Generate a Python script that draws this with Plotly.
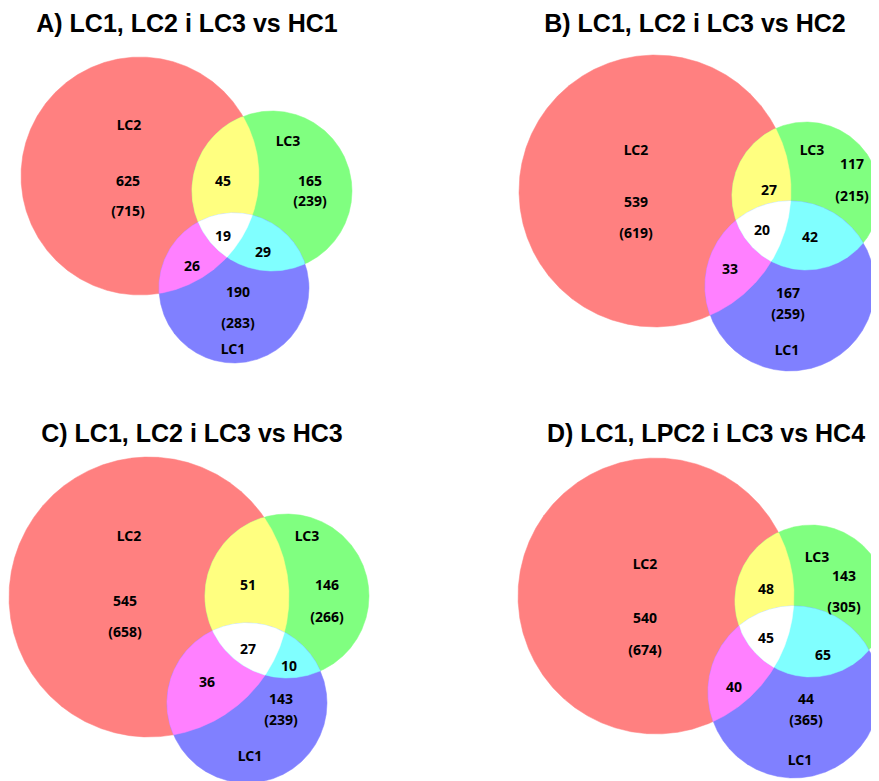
import numpy as np
import plotly.graph_objects as go

# ---------------- data ----------------
panel_titles = ["A) LC1, LC2 i LC3 vs HC1", "B) LC1, LC2 i LC3 vs HC2",
                "C) LC1, LC2 i LC3 vs HC3", "D) LC1, LPC2 i LC3 vs HC4"]
set_names = ["LC2", "LC3", "LC1"]
only_lc2 = [625, 539, 545, 540]
only_lc3 = [165, 117, 146, 143]
only_lc1 = [190, 167, 143, 44]
total_lc2 = [715, 619, 658, 674]
total_lc3 = [239, 215, 266, 305]
total_lc1 = [283, 259, 239, 365]
lc2_lc3 = [45, 27, 51, 48]
lc2_lc1 = [26, 33, 36, 40]
lc3_lc1 = [29, 42, 10, 65]
all_three = [19, 20, 27, 45]

# ---------------- layout geometry (page pixels) ----------------
W, H = 879, 781
BODY = 8  # default page body margin
# circles per panel: LC2 (red), LC3 (green), LC1 (blue) -> (cx, cy, r)
circles = [
    [(140, 176, 119), (272, 191, 80), (234, 288, 75)],
    [(655, 191, 136), (806, 196, 74), (790, 286, 85)],
    [(149, 597, 140), (287, 596, 82), (247, 703, 80)],
    [(656, 596, 138), (811, 601, 76), (794, 692, 86)],
]
title_pos = [(187, 26), (695, 26), (192, 436), (706, 436)]
# label positions: name2, only2, tot2, name3, only3, tot3, name1, only1, tot1, 23, 21, 31, all
label_pos = [
    [(129, 126), (128, 182), (128, 212), (288, 142), (310, 182), (310, 202),
     (233, 350), (238, 293), (238, 324), (223, 182), (192, 267), (263, 253), (223, 237)],
    [(636, 151), (636, 203), (636, 234), (812, 151), (852, 165), (852, 197),
     (787, 351), (788, 294), (788, 315), (769, 191), (730, 270), (810, 238), (762, 231)],
    [(129, 537), (125, 602), (125, 633), (307, 537), (327, 586), (327, 618),
     (250, 757), (281, 700), (281, 721), (248, 586), (207, 683), (289, 667), (248, 650)],
    [(645, 565), (645, 619), (645, 651), (817, 558), (844, 577), (844, 608),
     (800, 761), (806, 700), (806, 721), (766, 590), (734, 688), (823, 656), (766, 639)],
]

col_single = ["#FF8080", "#80FF80", "#8080FF"]
col_pair = {(0, 1): "#FFFF80", (0, 2): "#FF80FF", (1, 2): "#80FFFF"}
col_all = "#FFFFFF"


def circle_pts(c, n=1440):
    t = np.linspace(0, 2 * np.pi, n, endpoint=False)
    return c[0] + c[2] * np.cos(t), c[1] + c[2] * np.sin(t)


def intersection_poly(cs):
    xs, ys = [], []
    for i, c in enumerate(cs):
        x, y = circle_pts(c)
        keep = np.ones_like(x, dtype=bool)
        for j, o in enumerate(cs):
            if j != i:
                keep &= (x - o[0]) ** 2 + (y - o[1]) ** 2 <= (o[2] + 1e-6) ** 2
        xs.append(x[keep]); ys.append(y[keep])
    x = np.concatenate(xs); y = np.concatenate(ys)
    mx, my = x.mean(), y.mean()
    order = np.argsort(np.arctan2(y - my, x - mx))
    x, y = x[order], y[order]
    return np.append(x, x[0]), np.append(y, y[0])


fig = go.Figure()


def add_poly(x, y, color):
    fig.add_trace(go.Scatter(x=x, y=y, mode="lines", fill="toself",
                             fillcolor=color, line=dict(width=0.5, color=color),
                             hoverinfo="skip", showlegend=False))


for p in range(4):
    cs = circles[p]
    for k in range(3):
        x, y = circle_pts(cs[k])
        add_poly(np.append(x, x[0]), np.append(y, y[0]), col_single[k])
    for (a, b), col in col_pair.items():
        x, y = intersection_poly([cs[a], cs[b]])
        add_poly(x, y, col)
    x, y = intersection_poly(cs)
    add_poly(x, y, col_all)

    texts = [set_names[0], str(only_lc2[p]), f"({total_lc2[p]})",
             set_names[1], str(only_lc3[p]), f"({total_lc3[p]})",
             set_names[2], str(only_lc1[p]), f"({total_lc1[p]})",
             str(lc2_lc3[p]), str(lc2_lc1[p]), str(lc3_lc1[p]), str(all_three[p])]
    lp = label_pos[p]
    fig.add_trace(go.Scatter(x=[q[0] for q in lp], y=[q[1] for q in lp], mode="text",
                             text=texts, textposition="middle center",
                             textfont=dict(family="Noto Sans", size=14, color="#000000",
                                           weight="bold"),
                             hoverinfo="skip", showlegend=False))
    fig.add_trace(go.Scatter(x=[title_pos[p][0]], y=[title_pos[p][1]], mode="text",
                             text=[panel_titles[p]], textposition="middle center",
                             textfont=dict(family="Liberation Sans", size=25, color="#000000",
                                           weight="bold"),
                             hoverinfo="skip", showlegend=False))

# the page body has an 8px margin: size the figure to the remaining window area
fig.update_layout(width=W - BODY, height=H - BODY, margin=dict(l=0, r=0, t=0, b=0),
                  paper_bgcolor="white", plot_bgcolor="white",
                  xaxis=dict(range=[BODY, W], visible=False, fixedrange=True),
                  yaxis=dict(range=[H, BODY], visible=False, fixedrange=True))
fig.write_html("out.html", config={"displayModeBar": False})
